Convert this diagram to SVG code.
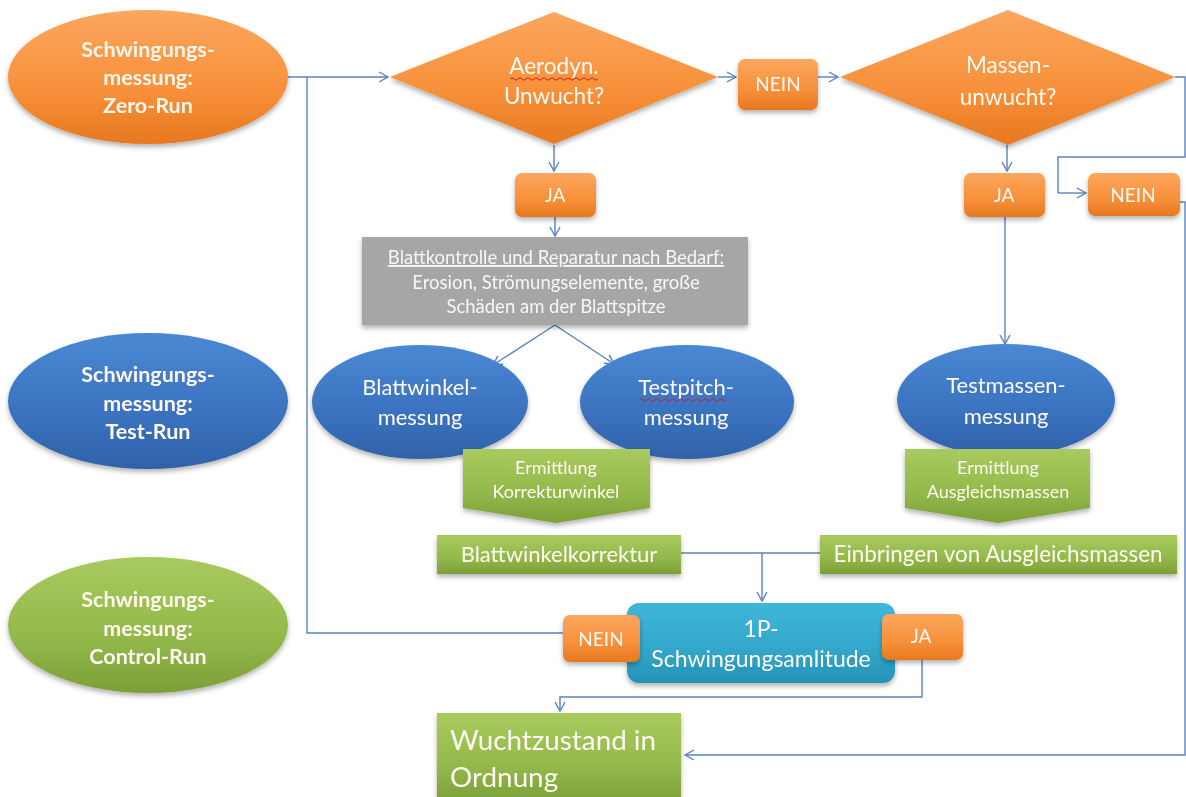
<svg xmlns="http://www.w3.org/2000/svg" width="1186" height="797" viewBox="0 0 1186 797">
<style>
text{font-family:Lato,"Open Sans","Liberation Sans",sans-serif;text-anchor:middle}
.b{font-weight:bold;font-size:21.5px;fill:#fff8f0}
.w{fill:#fffaf3}
.t22{font-size:22px}
.t19{font-size:19px}
.t18{font-size:18px}
.tg{font-size:18.5px}
.con{fill:none;stroke:#5a82c2;stroke-width:1.4}
.arr{marker-end:url(#ah)}
</style>
<defs>
<linearGradient id="gOr" x1="0" y1="0" x2="0" y2="1"><stop offset="0" stop-color="#fba75e"/><stop offset="0.6" stop-color="#f7903a"/><stop offset="1" stop-color="#e7781f"/></linearGradient>
<linearGradient id="gBl" x1="0" y1="0" x2="0" y2="1"><stop offset="0" stop-color="#4a88d4"/><stop offset="0.6" stop-color="#3a72bf"/><stop offset="1" stop-color="#2f62a8"/></linearGradient>
<linearGradient id="gGr" x1="0" y1="0" x2="0" y2="1"><stop offset="0" stop-color="#a9ca5e"/><stop offset="0.6" stop-color="#93b84a"/><stop offset="1" stop-color="#7c9f36"/></linearGradient>
<linearGradient id="gTe" x1="0" y1="0" x2="0" y2="1"><stop offset="0" stop-color="#3fb7db"/><stop offset="0.6" stop-color="#31a6ca"/><stop offset="1" stop-color="#2792b6"/></linearGradient>
<filter id="sh" x="-20%" y="-20%" width="140%" height="150%"><feDropShadow dx="0" dy="3" stdDeviation="2.5" flood-color="#000" flood-opacity="0.3"/></filter>
<marker id="ah" markerWidth="12" markerHeight="12" refX="10" refY="6" orient="auto" markerUnits="userSpaceOnUse"><path d="M1,1 L10,6 L1,11" fill="none" stroke="#5a82c2" stroke-width="1.4"/></marker>
</defs>

<g id="connectors">
<path class="con arr" d="M288,77 H388"/>
<path class="con" d="M563,633 H307 V77"/>
<path class="con arr" d="M718,77 H736"/>
<path class="con arr" d="M818,77 H838"/>
<path class="con" d="M1175,77 H1185 V157 H1058 V193"/>
<path class="con arr" d="M1058,193 H1086"/>
<path class="con arr" d="M1180,202 H1185 V755 H685"/>
<path class="con arr" d="M554,145 V171"/>
<path class="con arr" d="M555,217 V236"/>
<path class="con arr" d="M555,325 L493,365"/>
<path class="con arr" d="M555,325 L614,364"/>
<path class="con arr" d="M1007,145 V171"/>
<path class="con arr" d="M1005,217 V344"/>
<path class="con" d="M681,553 H820"/>
<path class="con arr" d="M762,553 V601"/>
<path class="con arr" d="M922,660 V697 H560 V711"/>
</g>

<g id="zero-run" filter="url(#sh)"><ellipse cx="148" cy="77" rx="140" ry="67" fill="url(#gOr)"/>
<text class="b" x="148" y="57">Schwingungs-</text><text class="b" x="148" y="85">messung:</text><text class="b" x="148" y="113">Zero-Run</text></g>

<g id="test-run" filter="url(#sh)"><ellipse cx="148" cy="401" rx="140" ry="68" fill="url(#gBl)"/>
<text class="b" x="148" y="382">Schwingungs-</text><text class="b" x="148" y="411">messung:</text><text class="b" x="148" y="439">Test-Run</text></g>

<g id="control-run" filter="url(#sh)"><ellipse cx="148" cy="625" rx="140" ry="68" fill="url(#gGr)"/>
<text class="b" x="148" y="607">Schwingungs-</text><text class="b" x="148" y="636">messung:</text><text class="b" x="148" y="664">Control-Run</text></g>

<g id="aerodyn" filter="url(#sh)"><polygon points="390,77 554,12 718,77 554,144" fill="url(#gOr)"/>
<text class="w" x="554" y="74" style="font-size:22.5px">Aerodyn.</text><text class="w" x="554" y="104" style="font-size:22.5px">Unwucht?</text>
<path d="M510,79 q2,-2.5 4,0 t4,0 t4,0 t4,0 t4,0 t4,0 t4,0 t4,0 t4,0 t4,0 t4,0 t4,0 t4,0 t4,0 t4,0 t4,0 t4,0 t4,0 t4,0 t4,0 t4,0 t4,0" fill="none" stroke="#d02020" stroke-width="1"/></g>

<g id="nein1" filter="url(#sh)"><rect x="738" y="59" width="80" height="51" rx="7" fill="url(#gOr)"/><text class="w t19" x="778" y="91">NEIN</text></g>

<g id="massen" filter="url(#sh)"><polygon points="840,77 1008,10 1175,77 1008,145" fill="url(#gOr)"/>
<text class="w" x="1008" y="73" style="font-size:22.5px">Massen-</text><text class="w" x="1008" y="105" style="font-size:22.5px">unwucht?</text></g>

<g id="ja1" filter="url(#sh)"><rect x="515" y="173" width="81" height="44" rx="7" fill="url(#gOr)"/><text class="w t19" x="555" y="202">JA</text></g>

<g id="ja2" filter="url(#sh)"><rect x="964" y="173" width="81" height="44" rx="7" fill="url(#gOr)"/><text class="w t19" x="1004" y="202">JA</text></g>

<g id="nein2" filter="url(#sh)"><rect x="1088" y="173" width="92" height="43" rx="7" fill="url(#gOr)"/><text class="w t19" x="1133" y="202">NEIN</text></g>

<g id="blattkontrolle" filter="url(#sh)"><rect x="362" y="237" width="386" height="88" fill="#a6a6a6"/>
<text class="tg" x="556" y="264" fill="#f7f7f7" text-decoration="underline">Blattkontrolle und Reparatur nach Bedarf:</text>
<text class="tg" x="556" y="289" fill="#f7f7f7">Erosion, Strömungselemente, große</text>
<text class="tg" x="556" y="313" fill="#f7f7f7">Schäden am der Blattspitze</text></g>

<g id="blattwinkelmessung" filter="url(#sh)"><ellipse cx="420" cy="402" rx="108" ry="57" fill="url(#gBl)"/>
<text class="w t22" x="420" y="395">Blattwinkel-</text><text class="w t22" x="420" y="425">messung</text></g>

<g id="testpitch" filter="url(#sh)"><ellipse cx="687" cy="402" rx="107" ry="57" fill="url(#gBl)"/>
<text class="w t22" x="686" y="395">Testpitch-</text><text class="w t22" x="686" y="425">messung</text>
<path d="M639,400 q2,-2.5 4,0 t4,0 t4,0 t4,0 t4,0 t4,0 t4,0 t4,0 t4,0 t4,0 t4,0 t4,0 t4,0 t4,0 t4,0 t4,0 t4,0 t4,0 t4,0 t4,0 t4,0 t4,0" fill="none" stroke="#d02020" stroke-width="1"/></g>

<g id="testmassen" filter="url(#sh)"><ellipse cx="1006" cy="400" rx="109" ry="56" fill="url(#gBl)"/>
<text class="w t22" x="1006" y="393">Testmassen-</text><text class="w t22" x="1006" y="424">messung</text></g>

<g id="korrekturwinkel" filter="url(#sh)"><polygon points="463,449 650,449 650,508 556,523 463,508" fill="url(#gGr)"/>
<text class="w t18" x="556" y="474">Ermittlung</text><text class="w t18" x="556" y="498">Korrekturwinkel</text></g>

<g id="ausgleichsmassen-ermittlung" filter="url(#sh)"><polygon points="905,449 1090,449 1090,508 998,523 905,508" fill="url(#gGr)"/>
<text class="w t18" x="998" y="474">Ermittlung</text><text class="w t18" x="998" y="498">Ausgleichsmassen</text></g>

<g id="blattwinkelkorrektur" filter="url(#sh)"><rect x="437" y="535" width="244" height="39" fill="url(#gGr)"/>
<text class="w t22" x="559" y="562">Blattwinkelkorrektur</text></g>

<g id="einbringen" filter="url(#sh)"><rect x="820" y="535" width="357" height="39" fill="url(#gGr)"/>
<text class="w" x="998" y="562" style="font-size:22.4px">Einbringen von Ausgleichsmassen</text></g>

<g id="amplitude" filter="url(#sh)"><rect x="627" y="603" width="268" height="80" rx="12" fill="url(#gTe)"/>
<text class="w" x="761" y="637" style="font-size:23px">1P-</text><text class="w" x="761" y="667" style="font-size:23px">Schwingungsamlitude</text></g>

<g id="nein3" filter="url(#sh)"><rect x="563" y="615" width="77" height="47" rx="7" fill="url(#gOr)"/><text class="w t19" x="601" y="646">NEIN</text></g>

<g id="ja3" filter="url(#sh)"><rect x="882" y="614" width="81" height="46" rx="7" fill="url(#gOr)"/><text class="w t19" x="921" y="643">JA</text></g>

<g id="wuchtzustand" filter="url(#sh)"><rect x="437" y="713" width="244" height="90" fill="url(#gGr)"/>
<text class="w" x="450" y="750" style="font-size:27.8px;text-anchor:start">Wuchtzustand in</text>
<text class="w" x="450" y="787" style="font-size:27.8px;text-anchor:start">Ordnung</text></g>
</svg>
